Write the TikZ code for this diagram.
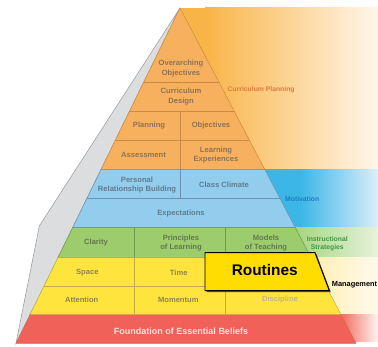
\documentclass[tikz,border=0pt]{standalone}
\usepackage{fontspec}
\setmainfont{Liberation Sans}
\definecolor{orfill}{HTML}{F7B15E}
\definecolor{orline}{HTML}{C98A45}
\definecolor{ortext}{HTML}{8E7258}
\definecolor{blfill}{HTML}{92CDEE}
\definecolor{blline}{HTML}{6F93AD}
\definecolor{bltext}{HTML}{617B8E}
\definecolor{grfill}{HTML}{9CCC6C}
\definecolor{grline}{HTML}{6F9A4C}
\definecolor{grtext}{HTML}{62784F}
\definecolor{yefill}{HTML}{FFE43E}
\definecolor{yeline}{HTML}{BFAE48}
\definecolor{yetext}{HTML}{8E8450}
\definecolor{disctext}{HTML}{BDB588}
\definecolor{refill}{HTML}{F0615A}
\definecolor{reline}{HTML}{C9704A}
\definecolor{foundtext}{HTML}{FBE2DC}
\definecolor{grayface}{HTML}{DCDDDF}
\definecolor{routfill}{HTML}{FFDD00}
\definecolor{orbandA}{HTML}{F9B447}
\definecolor{orbandB}{HTML}{FFF6EA}
\definecolor{blbandA}{HTML}{3BB6E7}
\definecolor{blbandB}{HTML}{DCEEF9}
\definecolor{grbandA}{HTML}{A6D47F}
\definecolor{grbandB}{HTML}{E6F3DC}
\definecolor{yebandA}{HTML}{FFEFB0}
\definecolor{yebandB}{HTML}{FFF9EC}
\definecolor{rebandA}{HTML}{F26A5E}
\definecolor{rebandB}{HTML}{FFF4F2}
\definecolor{cplantext}{HTML}{DE7B3E}
\definecolor{motvtext}{HTML}{1F7DC2}
\definecolor{instrtext}{HTML}{3A9A48}
\begin{document}
\begin{tikzpicture}[x=1pt,y=-1pt,
  celltext/.style={font=\bfseries\fontsize{7.6}{9.2}\selectfont, align=center, inner sep=0pt},
  sidelabel/.style={font=\bfseries\fontsize{6.8}{8}\selectfont, align=center, inner sep=0pt},
  divline/.style={line width=0.7pt}]
\useasboundingbox (0,0) rectangle (378,347);
\fill[white] (0,0) rectangle (378,347);
% right-hand bands
\shade[left color=orbandA, right color=orbandB] (205,8) rectangle (378,169.3);
\fill[orbandA] (180,8) rectangle (205.5,169.3);
\shade[left color=blbandA, right color=blbandB] (300,169.3) rectangle (378,227.7);
\fill[blbandA] (264,169.3) rectangle (300.5,227.7);
\shade[left color=grbandA, right color=grbandB] (295,227.7) rectangle (378,257.3);
\shade[left color=yebandA, right color=yebandB] (310,257.3) rectangle (378,315);
\shade[left color=rebandA, right color=rebandB] (341,315) rectangle (378,342);
% grey side face
\filldraw[fill=grayface, draw=gray!80, line width=0.5pt] (180,8) -- (39.3,226) -- (16,343.3) -- (29.9,315) -- (101.1,169.3) -- cycle;
% pyramid bands
\filldraw[fill=orfill, draw=orline, line width=0.5pt] (180,8) -- (264.7,169.3) -- (101.1,169.3) -- cycle;
\filldraw[fill=blfill, draw=blline, line width=0.5pt] (101.1,169.3) -- (264.7,169.3) -- (295.3,227.7) -- (72.6,227.7) -- cycle;
\filldraw[fill=grfill, draw=grline, line width=0.5pt] (72.6,227.7) -- (295.3,227.7) -- (310.9,257.3) -- (58.1,257.3) -- cycle;
\filldraw[fill=yefill, draw=yeline, line width=0.5pt] (58.1,257.3) -- (310.9,257.3) -- (341.2,315) -- (29.9,315) -- cycle;
\filldraw[fill=refill, draw=reline, line width=0.5pt] (29.9,315) -- (341.2,315) -- (356,343.3) -- (16,343.3) -- cycle;
% dividers
\draw[divline, orline] (143.8,82) -- (218.9,82);
\draw[divline, orline] (129.6,111) -- (234.1,111);
\draw[divline, orline] (115.2,140.5) -- (249.6,140.5);
\draw[divline, orline] (180.7,111) -- (180.7,169.3);
\draw[divline, orline] (101.1,169.3) -- (264.7,169.3);
\draw[divline, blline] (180.7,169.3) -- (180.7,198.3);
\draw[divline, blline] (86.9,198.3) -- (279.9,198.3);
\draw[divline, blline] (72.6,227.7) -- (295.3,227.7);
\draw[divline, grline] (134.3,227.7) -- (134.3,257.3);
\draw[divline, grline] (225.3,227.7) -- (225.3,257.3);
\draw[divline, yeline] (134.3,257.3) -- (134.3,315);
\draw[divline, yeline] (225.3,257.3) -- (225.3,315);
\draw[divline, yeline] (44.1,286) -- (326,286);
\draw[divline, yeline] (58.1,257.3) -- (310.9,257.3);
% cell texts
\node[celltext, ortext] (over) at (181,68.5) {Overarching\\Objectives};
\node[celltext, ortext] (cdes) at (181,96.5) {Curriculum\\Design};
\node[celltext, ortext] (plan) at (149,126) {Planning};
\node[celltext, ortext] (obj) at (211,126) {Objectives};
\node[celltext, ortext] (asse) at (143.5,155) {Assessment};
\node[celltext, ortext] (lexp) at (216,154.7) {Learning\\Experiences};
\node[celltext, bltext] (prb) at (137,185) {Personal\\Relationship Building};
\node[celltext, bltext] (ccl) at (224,185) {Class Climate};
\node[celltext, bltext] (expc) at (181,214) {Expectations};
\node[celltext, grtext] (clar) at (96,242.7) {Clarity};
\node[celltext, grtext] (pol) at (181,242.7) {Principles\\of Learning};
\node[celltext, grtext] (mot) at (266,242.7) {Models\\of Teaching};
\node[celltext, yetext] (space) at (87.3,273) {Space};
\node[celltext, yetext] (time) at (178.7,273) {Time};
\node[celltext, yetext] (attn) at (81.7,300) {Attention};
\node[celltext, yetext] (mom) at (178.3,300) {Momentum};
\node[celltext, disctext] (disc) at (280,300) {Discipline};
\node[font=\bfseries\fontsize{9}{10}\selectfont, text=foundtext, inner sep=0pt] (found) at (181,331) {Foundation of Essential Beliefs};
% side labels
\node[sidelabel, anchor=west, text=cplantext] (cplan) at (227.5,89.3) {Curriculum Planning};
\node[sidelabel, anchor=west, text=motvtext] (motv) at (285,198.7) {Motivation};
\node[sidelabel, text=instrtext] (instr) at (327.3,243.3) {Instructional\\Strategies};
% routines box
\fill[black!70] (206.5,254.2) -- (316.5,254.2) -- (330.8,292.2) -- (206.5,292.2) -- cycle;
\filldraw[fill=routfill, draw=black, line width=0.9pt] (205,252.7) -- (315,252.7) -- (329.3,290.7) -- (205,290.7) -- cycle;
\node[font=\bfseries\fontsize{15.4}{17}\selectfont, inner sep=0pt] (rout) at (264.7,270) {Routines};
\node[sidelabel, font=\bfseries\fontsize{7.4}{8}\selectfont, anchor=west, text=black] (mgmt) at (331.7,285) {Management};
\end{tikzpicture}
\end{document}
